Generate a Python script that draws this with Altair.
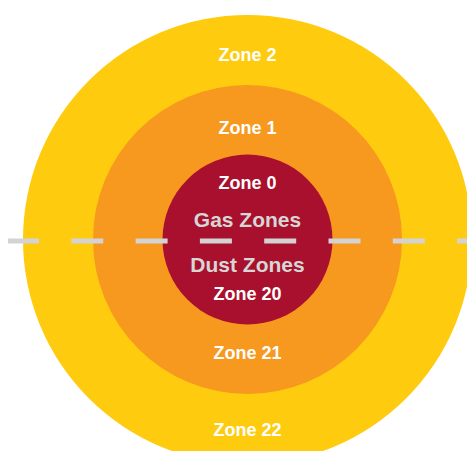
import altair as alt
import pandas as pd

# concentric zones (screen-pixel coordinate system)
zone_names = ["outer", "middle", "inner"]
zone_radius = [224.5, 154.5, 85]
zone_colors = ["#FECB0F", "#F7981F", "#A8102D"]
center_x = 247.5
center_y = 239.5

labels = ["Zone 2", "Zone 1", "Zone 0", "Zone 20", "Zone 21", "Zone 22"]
label_y = [61, 133.5, 189, 300, 359, 435.5]

mid_labels = ["Gas Zones", "Dust Zones"]
mid_y = [226.5, 271.5]

line_x = [7, 475]
line_y = 241

W, H = 459, 443
xs = alt.Scale(domain=[8, 8 + W], nice=False, zero=False)
ys = alt.Scale(domain=[8 + H, 8], nice=False, zero=False)

circles = pd.DataFrame({
    "zone": zone_names,
    "r": zone_radius,
    "x": [center_x] * 3,
    "y": [center_y] * 3,
})
# Vega circle symbol: size = (diameter)^2
circles["area"] = (2 * circles["r"]) ** 2
circles["order"] = range(3)

circ = alt.Chart(circles).mark_circle(opacity=1, clip=True).encode(
    x=alt.X("x:Q", scale=xs, axis=None),
    y=alt.Y("y:Q", scale=ys, axis=None),
    size=alt.Size("area:Q", scale=None, legend=None),
    color=alt.Color("zone:N", scale=alt.Scale(domain=zone_names, range=zone_colors), legend=None),
    order=alt.Order("order:Q"),
)

line_df = pd.DataFrame({"x": [line_x[0]], "x2": [line_x[1]], "y": [line_y]})
rule = alt.Chart(line_df).mark_rule(
    color="#D3D3D3", strokeWidth=5, strokeDash=[32, 32.3], clip=False
).encode(
    x=alt.X("x:Q", scale=xs, axis=None),
    x2="x2:Q",
    y=alt.Y("y:Q", scale=ys, axis=None),
)

lab_df = pd.DataFrame({"t": labels, "x": [center_x] * len(labels), "y": label_y})
zone_text = alt.Chart(lab_df).mark_text(
    font="Liberation Sans", fontSize=18, fontWeight="bold", color="white",
    align="center", baseline="alphabetic"
).encode(
    x=alt.X("x:Q", scale=xs, axis=None),
    y=alt.Y("y:Q", scale=ys, axis=None),
    text="t:N",
)

mid_df = pd.DataFrame({"t": mid_labels, "x": [center_x] * 2, "y": mid_y})
mid_text = alt.Chart(mid_df).mark_text(
    font="Liberation Sans", fontSize=21, fontWeight="bold", color="#D6D6D6",
    align="center", baseline="alphabetic"
).encode(
    x=alt.X("x:Q", scale=xs, axis=None),
    y=alt.Y("y:Q", scale=ys, axis=None),
    text="t:N",
)

chart = alt.layer(circ, rule, zone_text, mid_text).properties(
    width=W, height=H, padding=0, autosize=alt.AutoSizeParams(type="none")
).configure_view(stroke=None)

chart.save("out.html", embed_options={"renderer": "svg", "actions": False})
